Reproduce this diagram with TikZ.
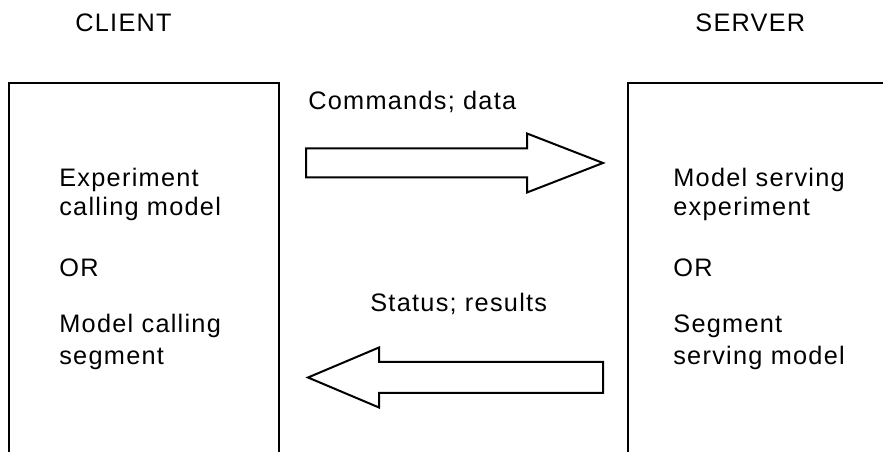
\documentclass[tikz,border=0pt]{standalone}
\usepackage{fontspec}
\setmainfont{Liberation Sans}[LetterSpace=5]
\tikzset{
	lbl/.style={anchor=base west, inner sep=0pt, font=\fontsize{14.4}{17}\selectfont},
	edge/.style={line width = 0.4mm, line join=miter}
}
\begin{document}
\begin{tikzpicture}
					\useasboundingbox (0,0) rectangle (17.66,9.04);
					
					% client and server boxes, open at the bottom
					\draw[edge] (0.18,0) -- (0.18,7.38) -- (5.58,7.38) -- (5.58,0);
					\draw[edge] (12.56,0) -- (12.56,7.38) -- (17.7,7.38);
					
					\node[lbl] (client) at (1.50,8.40) {CLIENT};
					\node[lbl] (server) at (13.90,8.40) {SERVER};
					
					% block arrows
					\draw[edge] (6.12,6.07) -- (10.54,6.07) -- (10.54,6.37) -- (12.06,5.78) -- (10.54,5.19) -- (10.54,5.49) -- (6.12,5.49) -- cycle;
					\draw[edge] (12.06,1.80) -- (7.58,1.80) -- (7.58,2.09) -- (6.16,1.49) -- (7.58,0.89) -- (7.58,1.18) -- (12.06,1.18) -- cycle;
					
					\node[lbl] (cmds) at (6.16,6.84) {Commands; data};
					\node[lbl] (stat) at (7.40,2.80) {Status; results};
					
					\node[lbl] (c1) at (1.18,5.30) {Experiment};
					\node[lbl] (c2) at (1.18,4.72) {calling model};
					\node[lbl] (c3) at (1.18,3.50) {OR};
					\node[lbl] (c4) at (1.18,2.38) {Model calling};
					\node[lbl] (c5) at (1.18,1.74) {segment};
					
					\node[lbl] (s1) at (13.46,5.30) {Model serving};
					\node[lbl] (s2) at (13.46,4.72) {experiment};
					\node[lbl] (s3) at (13.46,3.50) {OR};
					\node[lbl] (s4) at (13.46,2.38) {Segment};
					\node[lbl] (s5) at (13.46,1.74) {serving model};
				\end{tikzpicture}
\end{document}
